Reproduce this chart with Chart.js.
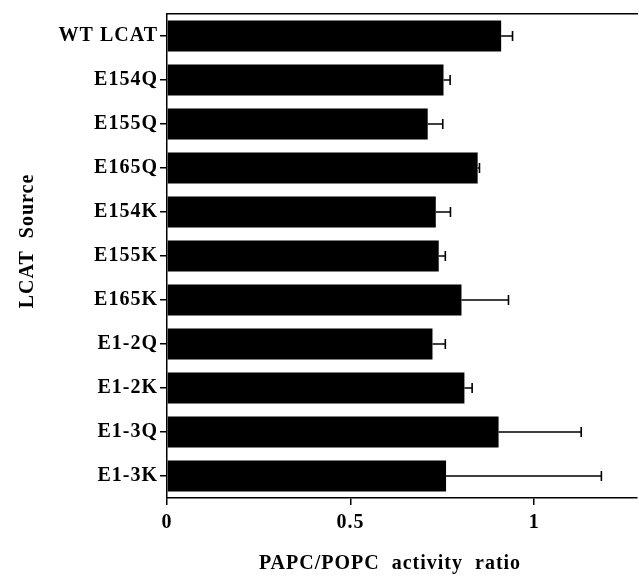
<!DOCTYPE html>
<html>
<head>
<meta charset="utf-8">
<script src="https://cdn.jsdelivr.net/npm/chart.js@4"></script>
<style>
  html, body { margin: 0; padding: 0; background: #fff; }
  #wrap { width: 639px; height: 576px; }
</style>
</head>
<body>
<div id="wrap"><canvas id="chartjs-bar"></canvas></div>
<script>
// data
const categories = ["WT LCAT", "E154Q", "E155Q", "E165Q", "E154K", "E155K", "E165K", "E1-2Q", "E1-2K", "E1-3Q", "E1-3K"];
const ratios = [0.910, 0.753, 0.710, 0.846, 0.732, 0.740, 0.802, 0.723, 0.810, 0.903, 0.760];
const errors = [0.031, 0.018, 0.041, 0.005, 0.040, 0.018, 0.128, 0.035, 0.021, 0.225, 0.423];
const xTicks = [0, 0.5, 1];
const xTickLabels = ["0", "0.5", "1"];

const serif = "'Liberation Serif', 'Times New Roman', serif";

// a little extra letter spacing like the printed figure
const spacing = {
    id: 'spacing',
    beforeUpdate(chart) { chart.ctx.letterSpacing = '1px'; },
    beforeDraw(chart) { chart.ctx.letterSpacing = '1px'; }
};

// draws the error bars from the values above
const errorBars = {
    id: 'errorBars',
    afterDatasetsDraw(chart) {
        const ctx = chart.ctx;
        const xs = chart.scales.x;
        const meta = chart.getDatasetMeta(0);
        ctx.save();
        ctx.strokeStyle = '#000';
        ctx.lineWidth = 1.6;
        meta.data.forEach((bar, i) => {
            const x0 = xs.getPixelForValue(ratios[i]);
            const x1 = xs.getPixelForValue(ratios[i] + errors[i]);
            const y = bar.y;
            ctx.beginPath();
            ctx.moveTo(x0, y);
            ctx.lineTo(x1, y);
            ctx.moveTo(x1, y - 5);
            ctx.lineTo(x1, y + 5);
            ctx.stroke();
        });
        ctx.restore();
    }
};

new Chart(document.getElementById("chartjs-bar"), {
    type: "bar",
    data: {
        labels: categories,
        datasets: [{
            data: ratios,
            backgroundColor: "#000",
            borderWidth: 0,
            barPercentage: 0.7,
            categoryPercentage: 1.0
        }]
    },
    options: {
        indexAxis: 'y',
        responsive: true,
        maintainAspectRatio: false,
        animation: false,
        layout: { padding: { left: 0, right: 2, top: 0, bottom: 0 } },
        plugins: {
            legend: { display: false },
            tooltip: { enabled: false }
        },
        scales: {
            x: {
                type: 'linear',
                position: 'bottom',
                min: 0,
                max: 1.28,
                afterBuildTicks: (scale) => {
                    scale.ticks = xTicks.map(v => ({ value: v }));
                },
                afterFit: (scale) => { scale.height = 78; },
                ticks: {
                    color: '#000',
                    padding: 6,
                    maxRotation: 0,
                    font: { family: serif, size: 20, weight: 'bold' },
                    callback: (v) => xTickLabels[xTicks.indexOf(v)]
                },
                grid: {
                    drawOnChartArea: false,
                    drawTicks: true,
                    tickLength: 7,
                    color: '#000',
                    lineWidth: 1.5
                },
                border: { display: true, color: '#000', width: 1.5 },
                title: {
                    display: true,
                    // trailing spaces nudge the centred title a bit left, as printed
                    text: 'PAPC/POPC  activity  ratio    ',
                    color: '#000',
                    align: 'center',
                    padding: { top: 10, bottom: 0 },
                    font: { family: serif, size: 20, weight: 'bold' }
                }
            },
            x2: {
                type: 'linear',
                position: 'top',
                min: 0,
                max: 1.28,
                afterFit: (scale) => { scale.height = 14; },
                ticks: { display: false },
                grid: { display: false },
                border: { display: true, color: '#000', width: 1.5 }
            },
            y: {
                afterFit: (scale) => { scale.width = 167; },
                ticks: {
                    color: '#000',
                    padding: 2,
                    font: { family: serif, size: 20, weight: 'bold' }
                },
                grid: {
                    drawOnChartArea: false,
                    drawTicks: true,
                    tickLength: 7,
                    offset: false,
                    color: '#000',
                    lineWidth: 1.5
                },
                border: { display: true, color: '#000', width: 1.5 },
                title: {
                    display: true,
                    // leading spaces lift the rotated title slightly
                    text: '     LCAT  Source',
                    color: '#000',
                    padding: { top: 16, bottom: 0 },
                    font: { family: serif, size: 20, weight: 'bold' }
                }
            }
        }
    },
    plugins: [spacing, errorBars]
});
</script>
</body>
</html>
